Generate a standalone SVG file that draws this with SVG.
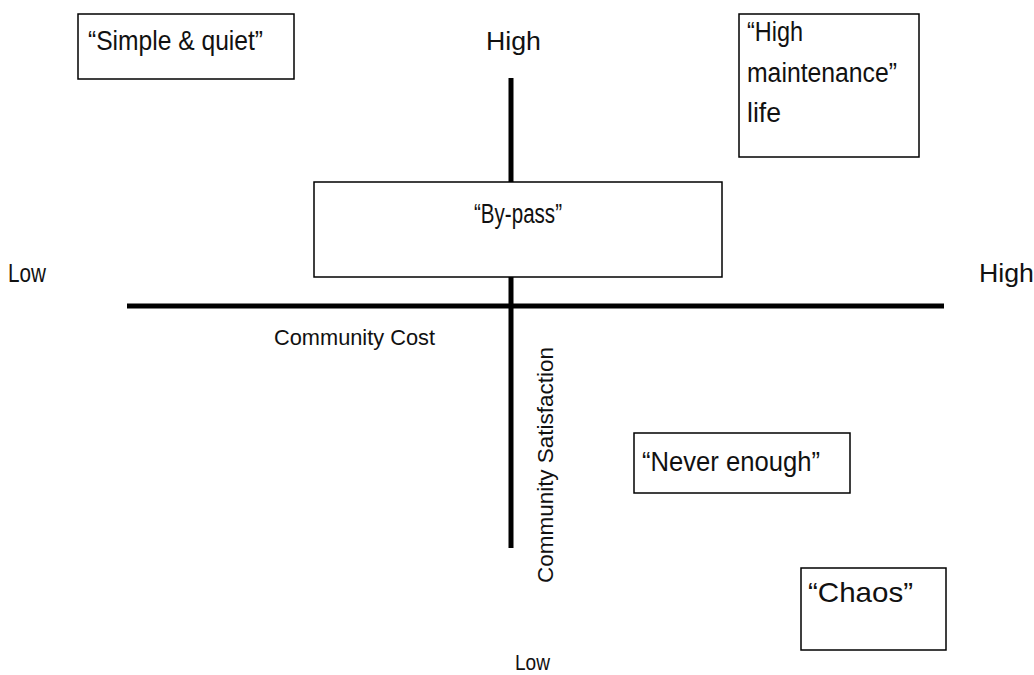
<svg xmlns="http://www.w3.org/2000/svg" width="1034" height="675" viewBox="0 0 1034 675">
<style>
.box{fill:#fff;stroke:#000;stroke-width:1.5}
.t{font-family:"Liberation Sans",Arial,sans-serif;fill:#111}
.axis{stroke:#000;stroke-width:5;fill:none}
</style>
<rect width="1034" height="675" fill="#fff"/>
<g id="connectors">
<line class="axis" x1="511" y1="78" x2="511" y2="548"/>
<line class="axis" x1="127" y1="306" x2="944" y2="306"/>
</g>
<g id="simple-quiet">
<rect class="box" x="78" y="14" width="216" height="65"/>
<text class="t" x="88" y="50" font-size="28" textLength="175" lengthAdjust="spacingAndGlyphs">“Simple &amp; quiet”</text>
</g>
<g id="high-maintenance">
<rect class="box" x="739" y="14" width="180" height="143"/>
<text class="t" x="747" y="41" font-size="27" textLength="56" lengthAdjust="spacingAndGlyphs">“High</text>
<text class="t" x="747" y="82" font-size="27" textLength="150" lengthAdjust="spacingAndGlyphs">maintenance”</text>
<text class="t" x="747" y="122" font-size="27" textLength="34" lengthAdjust="spacingAndGlyphs">life</text>
</g>
<g id="bypass">
<rect class="box" x="314" y="182" width="408" height="95"/>
<text class="t" x="474" y="223" font-size="27" textLength="88" lengthAdjust="spacingAndGlyphs">“By-pass”</text>
</g>
<g id="never-enough">
<rect class="box" x="634" y="433" width="216" height="60"/>
<text class="t" x="642" y="471" font-size="28" textLength="178" lengthAdjust="spacingAndGlyphs">“Never enough”</text>
</g>
<g id="chaos">
<rect class="box" x="801" y="568" width="145" height="82"/>
<text class="t" x="808" y="602" font-size="28" textLength="105" lengthAdjust="spacingAndGlyphs">“Chaos”</text>
</g>
<g id="labels">
<text class="t" x="486" y="50" font-size="25" textLength="55" lengthAdjust="spacingAndGlyphs">High</text>
<text class="t" x="8" y="282" font-size="25" textLength="38" lengthAdjust="spacingAndGlyphs">Low</text>
<text class="t" x="979" y="282" font-size="25" textLength="55" lengthAdjust="spacingAndGlyphs">High</text>
<text class="t" x="274" y="345" font-size="22" textLength="161" lengthAdjust="spacingAndGlyphs">Community Cost</text>
<text class="t" transform="translate(553,583) rotate(-90)" x="0" y="0" font-size="22" textLength="236" lengthAdjust="spacingAndGlyphs">Community Satisfaction</text>
<text class="t" x="515" y="670" font-size="22" textLength="35" lengthAdjust="spacingAndGlyphs">Low</text>
</g>
</svg>
